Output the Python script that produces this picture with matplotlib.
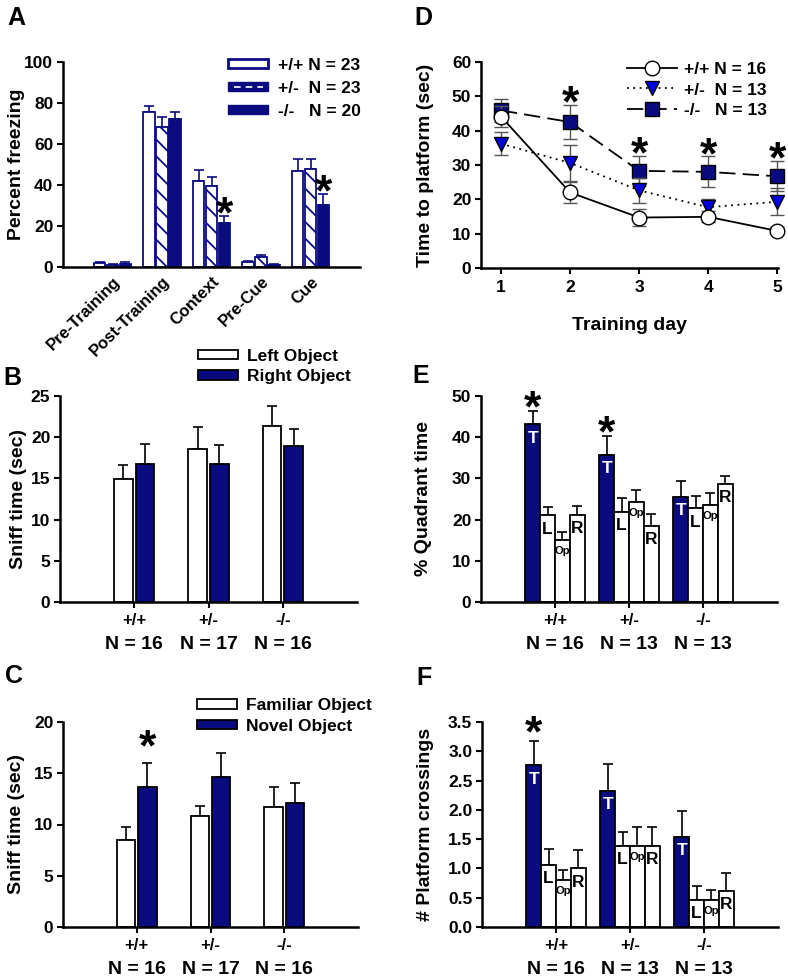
import numpy as np
import matplotlib.pyplot as plt
from matplotlib.patches import Rectangle
from matplotlib.lines import Line2D
from matplotlib.legend_handler import HandlerPatch

plt.rcParams['font.family'] = ['Liberation Sans', 'DejaVu Sans']
plt.rcParams['font.weight'] = 'bold'
plt.rcParams['hatch.linewidth'] = 1.3

NAVY = '#0b0b80'
BLUE = '#0000e0'

# ---- A: fear conditioning ----
fear_phases = ['Pre-Training', 'Post-Training', 'Context', 'Pre-Cue', 'Cue']
fear_wt = [1.9, 75.4, 41.8, 2.4, 46.7]
fear_wt_err = [0.6, 3.3, 5.4, 0.5, 6.1]
fear_het = [0.8, 68.1, 39.3, 4.7, 47.8]
fear_het_err = [0.5, 4.9, 4.8, 1.3, 4.9]
fear_ko = [1.3, 72.4, 21.5, 1.1, 30.1]
fear_ko_err = [0.9, 3.4, 3.2, 0.4, 5.5]
fear_labels = ['+/+ N = 23', '+/-  N = 23', '-/-   N = 20']
fear_sig = [2, 4]

genotypes = ['+/+', '+/-', '-/-']

# ---- B: object exploration, training ----
objB_n = [16, 17, 16]
left_obj = [14.9, 18.6, 21.3]
left_obj_err = [1.7, 2.6, 2.5]
right_obj = [16.8, 16.8, 18.9]
right_obj_err = [2.4, 2.2, 2.1]

# ---- C: novel object test ----
objC_n = [16, 17, 16]
familiar = [8.5, 10.8, 11.7]
familiar_err = [1.3, 1.0, 1.95]
novel = [13.7, 14.6, 12.1]
novel_err = [2.3, 2.4, 1.95]
novel_sig = [0]

# ---- D: water maze acquisition ----
days = [1, 2, 3, 4, 5]
wt_time = [44.1, 22.0, 14.7, 14.9, 10.8]
wt_time_err = [3.0, 3.1, 2.6, 1.6, 1.0]
het_time = [36.2, 30.6, 22.6, 17.7, 19.3]
het_time_err = [3.4, 5.3, 3.6, 2.5, 4.0]
ko_time = [45.9, 42.5, 28.3, 28.0, 26.7]
ko_time_err = [3.3, 5.0, 4.4, 4.5, 4.4]
maze_labels = ['+/+ N = 16', '+/-  N = 13', '-/-   N = 13']
maze_sig_days = [2, 3, 4, 5]

# ---- E / F: probe trial ----
probe_n = [16, 13, 13]
quadrants = ['T', 'L', 'Op', 'R']
quad_time = [[43.1, 35.8, 25.6],
             [21.0, 21.8, 22.7],
             [15.1, 24.3, 23.6],
             [21.2, 18.4, 28.6]]
quad_time_err = [[3.3, 4.5, 3.8],
                 [2.1, 3.4, 3.0],
                 [1.9, 3.0, 2.9],
                 [2.0, 2.9, 2.1]]
quad_sig = [0, 1]
crossings = [[2.76, 2.32, 1.54],
             [1.06, 1.39, 0.46],
             [0.81, 1.39, 0.46],
             [1.00, 1.39, 0.62]]
crossings_err = [[0.42, 0.47, 0.44],
                 [0.27, 0.23, 0.24],
                 [0.17, 0.31, 0.18],
                 [0.31, 0.31, 0.31]]
cross_sig = [0]

W, H = 788, 977
fig = plt.figure(figsize=(W / 100, H / 100), dpi=100)


def add_ax(l, r, t, b):
    ax = fig.add_axes([l / W, 1 - b / H, (r - l) / W, (b - t) / H])
    ax.width_px = r - l
    ax.height_px = b - t
    return ax


def style(ax, ymax, ystep, ylabel, label_dist, fmt=None):
    for s in ['top', 'right']:
        ax.spines[s].set_visible(False)
    for s in ['left', 'bottom']:
        ax.spines[s].set_linewidth(1.8)
    ax.set_ylim(0, ymax)
    ticks = np.arange(0, ymax + ystep / 2, ystep)
    ax.set_yticks(ticks)
    if fmt:
        ax.set_yticklabels([fmt % t for t in ticks])
    ax.tick_params(axis='y', length=4, width=1.5, pad=3, labelsize=12.5)
    ax.set_ylabel(ylabel, fontsize=14, fontweight='bold', va='center')
    ax.yaxis.set_label_coords(-label_dist / ax.width_px, 0.5)


def genotype_axis(ax, n_list):
    ax.set_xlim(-1, 3)
    ax.set_xticks(range(3))
    ax.set_xticklabels(genotypes, fontsize=12)
    ax.tick_params(axis='x', length=4, width=1.5, pad=4)
    for i, n in enumerate(n_list):
        ax.annotate(f'N = {n}', xy=(i, 0), xycoords=('data', 'axes fraction'),
                    xytext=(0, -33.5), textcoords='offset points', ha='center',
                    va='baseline', fontsize=14, fontweight='bold', annotation_clip=False)


def star(ax, x, y, off):
    ax.annotate('*', xy=(x, y), xytext=(0, off), textcoords='offset points',
                ha='center', va='center', fontsize=32, fontweight='bold', annotation_clip=False)


def up_err(ax, x, vals, errs, color='black'):
    ax.errorbar(x, vals, yerr=[np.zeros(len(errs)), errs], fmt='none', ecolor=color,
                elinewidth=1.2, capsize=3.5, capthick=1.2, zorder=1)


class DashedBarHandler(HandlerPatch):
    def create_artists(self, legend, orig_handle, xdescent, ydescent, width, height, fontsize, trans):
        r = Rectangle((-xdescent, -ydescent), width, height, facecolor=NAVY, edgecolor=NAVY, transform=trans)
        ln = Line2D([-xdescent + 4, -xdescent + width - 4], [height / 2 - ydescent] * 2,
                    color='white', lw=1.2, ls=(0, (4, 3)), transform=trans)
        return [r, ln]


# ---------------- A ----------------
axA = add_ax(63, 360, 62, 267)
x = np.arange(len(fear_phases))
bw = 0.23
axA.bar(x - 0.26, fear_wt, bw, color='white', edgecolor=NAVY, lw=1.3, zorder=2)
axA.bar(x, fear_het, bw, color='white', edgecolor=NAVY, hatch='\\\\', lw=1.3, zorder=2)
axA.bar(x + 0.26, fear_ko, bw, color=NAVY, edgecolor=NAVY, lw=1.3, zorder=2)
up_err(axA, x - 0.26, fear_wt, fear_wt_err, NAVY)
up_err(axA, x, fear_het, fear_het_err, NAVY)
up_err(axA, x + 0.26, fear_ko, fear_ko_err, NAVY)
for i in fear_sig:
    star(axA, i + 0.26, fear_ko[i] + fear_ko_err[i], 0)
style(axA, 100, 20, 'Percent freezing', 46)
axA.set_xlim(-1, 5)
axA.set_xticks(x)
axA.set_xticklabels(fear_phases, rotation=45, ha='right', va='top', rotation_mode='anchor', fontsize=12)
axA.tick_params(axis='x', length=0, pad=5)
h1 = Rectangle((0, 0), 1, 1, facecolor='white', edgecolor=NAVY, lw=2)
h2 = Rectangle((0, 0), 1, 1, facecolor=NAVY)
h3 = Rectangle((0, 0), 1, 1, facecolor=NAVY, edgecolor=NAVY)
axA.legend([h1, h2, h3], fear_labels, loc='upper left', bbox_to_anchor=(0.556, 1.02),
           frameon=False, fontsize=12.5, handlelength=2.3, handleheight=0.45,
           handletextpad=0.6, labelspacing=0.45, borderpad=0, borderaxespad=0,
           handler_map={h2: DashedBarHandler()})

# ---------------- B ----------------
axB = add_ax(60, 357, 396, 602)
g = np.arange(3)
axB.bar(g - 0.145, left_obj, 0.25, color='white', edgecolor='black', lw=1.3, zorder=2, label='Left Object')
axB.bar(g + 0.145, right_obj, 0.25, color=NAVY, edgecolor='black', lw=1.3, zorder=2, label='Right Object')
up_err(axB, g - 0.145, left_obj, left_obj_err)
up_err(axB, g + 0.145, right_obj, right_obj_err)
style(axB, 25, 5, 'Sniff time (sec)', 42)
genotype_axis(axB, objB_n)
axB.legend(loc='upper left', bbox_to_anchor=(0.465, 1.23), frameon=False, fontsize=12.5,
           handlelength=2.3, handleheight=0.5, handletextpad=0.5, labelspacing=0.3,
           borderpad=0, borderaxespad=0)

# ---------------- C ----------------
axC = add_ax(63, 358, 722, 927)
axC.bar(g - 0.145, familiar, 0.25, color='white', edgecolor='black', lw=1.3, zorder=2, label='Familiar Object')
axC.bar(g + 0.145, novel, 0.25, color=NAVY, edgecolor='black', lw=1.3, zorder=2, label='Novel Object')
up_err(axC, g - 0.145, familiar, familiar_err)
up_err(axC, g + 0.145, novel, novel_err)
for i in novel_sig:
    star(axC, i + 0.145, novel[i] + novel_err[i], 10)
style(axC, 20, 5, 'Sniff time (sec)', 47)
genotype_axis(axC, objC_n)
axC.legend(loc='upper left', bbox_to_anchor=(0.454, 1.115), frameon=False, fontsize=12.5,
           handlelength=2.3, handleheight=0.5, handletextpad=0.5, labelspacing=0.3,
           borderpad=0, borderaxespad=0)

# ---------------- D ----------------
axD = add_ax(481, 778, 62, 268)
eb_kw = dict(ecolor='#555555', elinewidth=1, capsize=5, capthick=1, mec='black', mew=1, clip_on=False)
cko = axD.errorbar(days, ko_time, yerr=ko_time_err, color='black', ls=(0, (9, 4)), lw=1.3,
                   marker='s', ms=9.5, mfc=NAVY, zorder=3, **eb_kw)
chet = axD.errorbar(days, het_time, yerr=het_time_err, color='black', ls=(0, (1, 2.5)), lw=1.3,
                    marker='v', ms=10, mfc=BLUE, zorder=4, **eb_kw)
cwt = axD.errorbar(days, wt_time, yerr=wt_time_err, color='black', ls='-', lw=1.3,
                   marker='o', ms=10.5, mfc='white', zorder=5, **eb_kw)
for d in maze_sig_days:
    star(axD, d, ko_time[d - 1] + ko_time_err[d - 1], 0)
style(axD, 60, 10, 'Time to platform (sec)', 56)
axD.set_xlim(0.71, 5.01)
axD.set_xticks(days)
axD.tick_params(axis='x', length=4, width=1.5, pad=5, labelsize=12.5)
axD.set_xlabel('Training day', fontsize=14, fontweight='bold', va='center')
axD.xaxis.set_label_coords(0.5, -57 / axD.height_px)
axD.legend([cwt[0], chet[0], cko[0]], maze_labels, loc='upper left', bbox_to_anchor=(0.49, 1.0),
           frameon=False, fontsize=12.5, handlelength=2.9, handletextpad=0.4, labelspacing=0.3,
           borderpad=0, borderaxespad=0)


# ---------------- E / F ----------------
def probe_panel(ax, vals, errs, sig, ymax, ystep, ylabel, fmt, star_off):
    offs = [-0.3, -0.1, 0.1, 0.3]
    for q in range(4):
        xs = g + offs[q]
        ax.bar(xs, vals[q], 0.2, color=NAVY if q == 0 else 'white', edgecolor='black', lw=1.3, zorder=2)
        up_err(ax, xs, vals[q], errs[q])
        for i in range(3):
            ax.annotate(quadrants[q], xy=(xs[i], vals[q][i]), xytext=(0, -4.5), textcoords='offset points',
                        ha='center', va='top', fontsize=8 if q == 2 else 12.5, fontweight='bold',
                        color='white' if q == 0 else 'black', zorder=3)
    for i in sig:
        star(ax, i + offs[0], vals[0][i] + errs[0][i], star_off)
    style(ax, ymax, ystep, ylabel, 57, fmt)
    genotype_axis(ax, probe_n)


axE = add_ax(481, 777, 396, 602)
probe_panel(axE, quad_time, quad_time_err, quad_sig, 50, 10, '% Quadrant time', None, 1)
axF = add_ax(482, 778, 722, 927)
probe_panel(axF, crossings, crossings_err, cross_sig, 3.5, 0.5, '# Platform crossings', '%.1f', 4)

# panel letters
for lab, px, py in [('A', 7, 25), ('D', 414, 25), ('B', 3, 385), ('E', 412, 383), ('C', 5, 683), ('F', 416, 685)]:
    fig.text(px / W, 1 - py / H, lab, fontsize=18, fontweight='bold', ha='left', va='baseline')

fig.savefig('out.png', dpi=100)
